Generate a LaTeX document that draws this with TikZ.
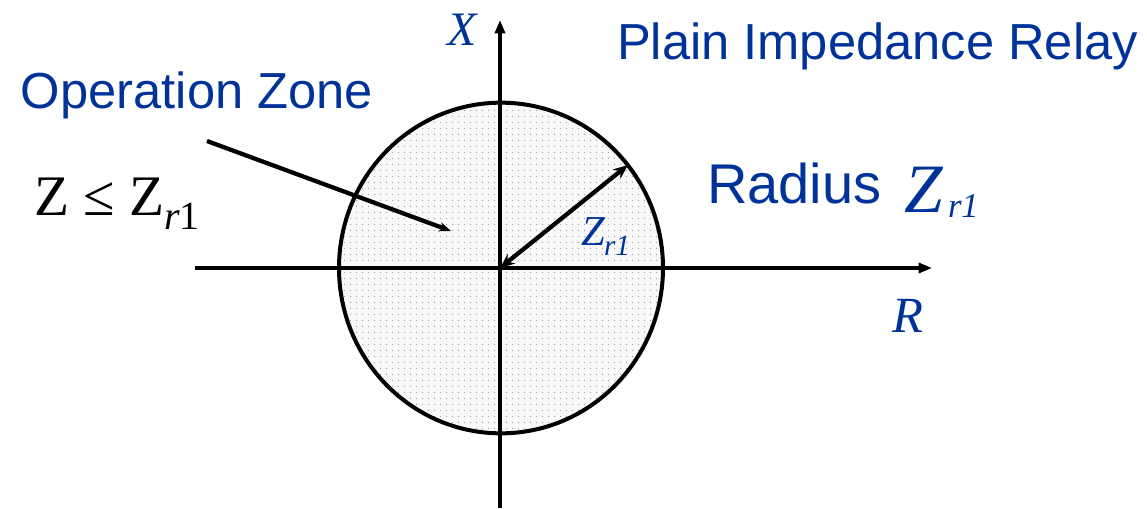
\documentclass[tikz,border=0pt]{standalone}
\usepackage{fontspec}
\setmainfont{Liberation Serif}
\newfontfamily\arialfont{Liberation Sans}
\usetikzlibrary{arrows.meta,shapes.geometric,patterns.meta}
\definecolor{relayblue}{RGB}{0,51,153}
\tikzdeclarepattern{
  name=zonedots,
  type=uncolored,
  bounding box={(0pt,0pt) and (4.5pt,4.5pt)},
  tile size={(4.5pt,4.5pt)},
  code={\fill (2.25pt,2.25pt) circle (0.55pt);}
}
\tikzset{
  zone/.style={ellipse, draw=black, line width=3pt, minimum width=243pt, minimum height=248pt,
    preaction={fill=gray!5}, pattern=zonedots, pattern color=gray!80},
  axisline/.style={line width=3.2pt, -{Triangle[length=10pt,width=7.5pt]}},
  radiusarrow/.style={line width=3.2pt, {Stealth[length=11pt,width=9pt]}-{Stealth[length=11pt,width=9pt]}},
  pointer/.style={line width=3.2pt, -{Stealth[length=9pt,width=7pt]}},
  lbl/.style={anchor=base west, inner sep=0pt, outer sep=0pt},
  sanslbl/.style={lbl, text=relayblue},
  mathlbl/.style={lbl, text=relayblue},
}
\begin{document}
\begin{tikzpicture}[x=0.75pt,y=-0.75pt]
\useasboundingbox (0,0) rectangle (1147,508);
% zone
\node[zone] (zone) at (501,268) {};
% axes
\coordinate (xleft) at (195,268);
\coordinate (xright) at (932,268);
\coordinate (ybottom) at (500,508);
\coordinate (ytop) at (500,20);
\draw[axisline] (xleft) -- (xright);
\draw[axisline] (ybottom) -- (ytop);
% radius arrow
\coordinate (origin) at (500,268);
\coordinate (rim) at (628,165);
\draw[radiusarrow] (origin) -- (rim);
% pointer
\coordinate (opstart) at (207,141);
\coordinate (optip) at (451,231);
\draw[pointer] (opstart) -- (optip);
% labels
\node[sanslbl, font=\arialfont\fontsize{38}{40}\selectfont] (title) at (617,59) {Plain Impedance Relay};
\node[sanslbl, font=\arialfont\fontsize{38}{40}\selectfont] (opzone) at (21,108) {Operation Zone};
\node[sanslbl, font=\arialfont\fontsize{42}{44}\selectfont] (radius) at (707,203) {Radius};
\node[mathlbl, font=\itshape\fontsize{52}{54}\selectfont] (radz) at (904,212) {Z};
\node[mathlbl, font=\itshape\fontsize{26}{28}\selectfont] (radsub) at (948,217) {r1};
\node[mathlbl, font=\itshape\fontsize{36}{38}\selectfont] (xlabel) at (447,45) {X};
\node[mathlbl, font=\itshape\fontsize{38}{40}\selectfont] (rlabel) at (892,332) {R};
\node[mathlbl, font=\itshape\fontsize{32}{34}\selectfont] (smallz) at (581,245) {Z};
\node[mathlbl, font=\itshape\fontsize{22}{24}\selectfont] (smallsub) at (604,255) {r1};
\node[lbl, text=black, font=\fontsize{43}{45}\selectfont] (cond) at (34,215) {Z ≤ Z\raisebox{-11pt}{\fontsize{30}{32}\selectfont\itshape r\upshape 1}};
\end{tikzpicture}
\end{document}
